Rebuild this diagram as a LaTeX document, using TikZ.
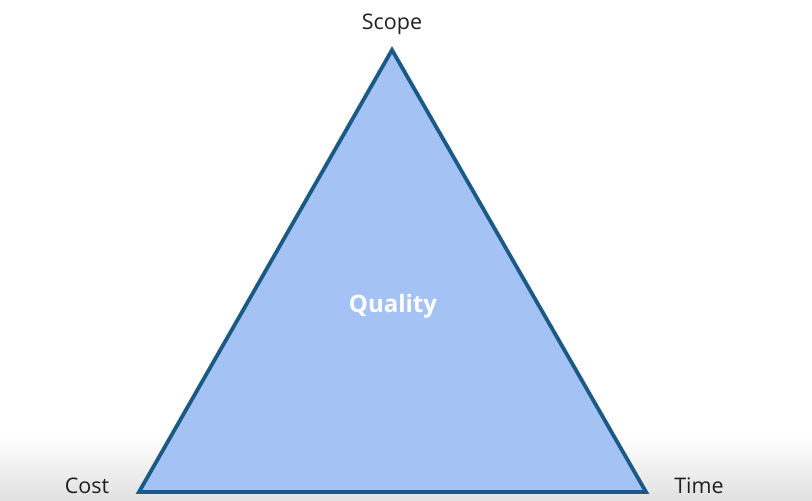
\documentclass[tikz,border=0pt]{standalone}
\usepackage{fontspec}
\setmainfont{Open Sans}
\definecolor{trifill}{HTML}{A4C2F4}
\definecolor{triedge}{HTML}{1B5A86}
\definecolor{labtext}{HTML}{202020}
\begin{document}
\begin{tikzpicture}[x=1pt,y=1pt,
  lab/.style={text=labtext,font=\fontsize{21.5}{25}\selectfont,inner sep=0pt},
  qual/.style={text=white,font=\fontsize{24}{28}\selectfont\bfseries,inner sep=0pt}]
\useasboundingbox (0,0) rectangle (812,501);
\shade[top color=white,bottom color=black!12] (0,0) rectangle (812,65);
\coordinate (S) at (392,451);
\coordinate (C) at (139,9);
\coordinate (T) at (646,9);
\draw[fill=trifill,draw=triedge,line width=3.8pt,line join=miter] (S) -- (C) -- (T) -- cycle;
\node[lab] (scope) at (392,477) {Scope};
\node[lab] (cost) at (87,15) {Cost};
\node[lab] (time) at (699,15) {Time};
\node[qual] (quality) at (393,195) {Quality};
\end{tikzpicture}
\end{document}
